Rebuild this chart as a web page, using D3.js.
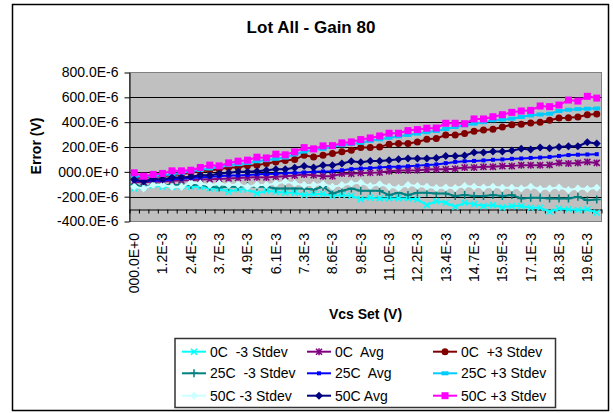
<!DOCTYPE html>
<html>
<head>
<meta charset="utf-8">
<script src="https://cdn.jsdelivr.net/npm/d3@7"></script>
<style>
  body { margin: 0; background: #fff; }
  text { font-family: "Liberation Sans", Arial, sans-serif; }
</style>
</head>
<body>
<svg id="chart" width="613" height="413"></svg>
<script>
// Vcs set points, in mV (category axis)
var vcsSet = [0.000, 0.408, 0.815, 1.223, 1.630, 2.038, 2.445, 2.853, 3.260, 3.668,
              4.075, 4.483, 4.890, 5.298, 5.705, 6.113, 6.520, 6.928, 7.335, 7.743,
              8.150, 8.558, 8.965, 9.373, 9.780, 10.188, 10.595, 11.003, 11.410, 11.818,
              12.225, 12.633, 13.040, 13.448, 13.855, 14.263, 14.670, 15.078, 15.485, 15.893,
              16.300, 16.708, 17.115, 17.523, 17.930, 18.338, 18.745, 19.153, 19.560, 19.968];

// error values in uV
var c0Minus = [-134,-120,-107,-120,-120,-115,-120,-120,-134,-134,-161,-142,-142,-174,-153,-161,-169,-169,-187,-179,
               -179,-193,-187,-193,-220,-209,-214,-214,-214,-214,-222,-268,-236,-249,-281,-249,-260,-276,-268,-286,
               -276,-276,-289,-289,-321,-295,-302,-308,-302,-329];
var c0Avg   = [-80,-85,-78,-80,-72,-70,-68,-62,-59,-57,-54,-50,-46,-44,-46,-40,-35,-30,-21,-28,
               -35,-35,-13,-15,-10,-8,-5,5,10,10,13,18,21,21,25,35,35,40,40,46,
               46,54,54,54,56,72,67,72,80,72];
var c0Plus  = [-45,-50,-40,-35,-25,-20,-5,5,13,21,35,35,50,54,67,80,91,99,134,120,
               134,147,161,174,195,195,201,222,228,228,241,262,268,297,297,308,327,337,343,361,
               380,383,394,399,415,434,436,442,460,466];
var c25Minus = [-102,-128,-102,-107,-107,-107,-107,-102,-120,-126,-120,-120,-115,-120,-120,-134,-134,-134,-134,-142,
                -120,-174,-153,-134,-153,-153,-153,-187,-169,-187,-169,-169,-174,-174,-195,-187,-195,-195,-187,-195,
                -187,-214,-209,-209,-214,-214,-214,-201,-228,-222];
var c25Avg  = [-70,-75,-68,-70,-60,-55,-50,-45,-40,-35,-30,-30,-25,-20,-18,-15,-10,-8,-5,0,
               3,5,13,22,27,30,35,40,40,45,50,55,60,70,80,85,88,92,97,100,
               105,108,112,115,120,128,135,138,140,142];
var c25Plus = [-35,-40,-35,-28,-19,-10,5,15,27,40,54,62,72,85,94,105,115,140,163,175,
               185,200,214,225,233,250,262,275,286,297,308,320,329,345,361,375,388,400,415,420,
               428,442,455,462,468,490,500,505,508,510];
var c50Minus = [-120,-134,-107,-107,-120,-120,-88,-94,-107,-94,-107,-102,-120,-107,-107,-94,-80,-94,-107,-107,
                -99,-120,-107,-94,-88,-115,-99,-120,-131,-107,-115,-120,-131,-126,-131,-115,-120,-126,-120,-128,
                -128,-134,-120,-139,-134,-126,-147,-134,-139,-128];
var c50Avg  = [-62,-75,-56,-62,-46,-46,-40,-27,-27,-16,-8,0,0,5,13,21,21,32,46,35,
               54,54,67,86,78,88,88,94,102,107,107,107,112,128,128,131,155,155,163,163,
               171,185,179,195,190,201,206,206,238,228];
var c50Plus = [-8,-35,-21,-13,8,8,13,35,54,48,72,86,94,118,112,142,137,161,195,185,
               209,211,233,241,260,273,289,311,311,332,340,351,353,391,391,388,426,426,444,460,
               479,490,495,530,525,538,578,570,608,594];

var seriesNames = ["0C  -3 Stdev", "0C  Avg", "0C  +3 Stdev",
                   "25C  -3 Stdev", "25C  Avg", "25C +3 Stdev",
                   "50C -3 Stdev", "50C Avg", "50C +3 Stdev"];
var seriesValues = [c0Minus, c0Avg, c0Plus, c25Minus, c25Avg, c25Plus, c50Minus, c50Avg, c50Plus];
var seriesColors = ["#00FFFF", "#800080", "#800000", "#008080", "#0000FF", "#00CCFF", "#CCFFFF", "#000080", "#FF00FF"];
var seriesMarkers = ["x", "star", "circle", "plus", "smallsquare", "dash", "diamond", "diamond", "square"];

var yTicks = [-400, -200, 0, 200, 400, 600, 800];

var svg = d3.select("#chart");

var plot = {left: 129.5, right: 601.5, top: 72.5, bottom: 221.5};

// outer chart border
svg.append("rect")
  .attr("x", 12.5).attr("y", 4.5)
  .attr("width", 596).attr("height", 406)
  .attr("fill", "#fff")
  .attr("stroke", "#000")
  .attr("stroke-width", 1.5);

svg.append("text")
  .attr("x", 311).attr("y", 33)
  .attr("text-anchor", "middle")
  .style("font-size", "17px")
  .style("font-weight", "bold")
  .text("Lot All - Gain 80");

var x = d3.scaleBand()
  .domain(d3.range(vcsSet.length))
  .range([plot.left, plot.right]);

var xEdge = d3.scaleLinear()
  .domain([0, vcsSet.length])
  .range([plot.left, plot.right]);

var y = d3.scaleLinear()
  .domain([-400, 800])
  .range([plot.bottom, plot.top]);

// plot area
svg.append("rect")
  .attr("x", plot.left).attr("y", plot.top)
  .attr("width", plot.right - plot.left).attr("height", plot.bottom - plot.top)
  .attr("fill", "#C0C0C0")
  .attr("stroke", "#808080")
  .attr("stroke-width", 1);

// gridlines
svg.append("g")
  .selectAll("line")
  .data([-200, 0, 200, 400, 600])
  .enter().append("line")
    .attr("x1", plot.left).attr("x2", plot.right)
    .attr("y1", function(d) { return Math.round(y(d)) + 0.5; })
    .attr("y2", function(d) { return Math.round(y(d)) + 0.5; })
    .attr("stroke", "#000")
    .attr("stroke-width", 1);

// y axis
var yAxis = svg.append("g")
  .attr("transform", "translate(" + plot.left + ",0)")
  .call(d3.axisLeft(y).tickValues(yTicks).tickSize(5).tickSizeOuter(0)
    .tickFormat(function(d) { return d === 0 ? "000.0E+0" : d.toFixed(1) + "E-6"; }));
yAxis.select(".domain").attr("stroke", "#000");
yAxis.selectAll("text")
  .attr("x", -11)
  .style("font-size", "14px")
  .style("font-family", "'Liberation Sans', Arial, sans-serif")
  .attr("fill", "#000");

// x axis crosses at -300E-6
var xAxisY = Math.round(y(-300)) + 0.5;
var xTicks = svg.append("g")
  .attr("transform", "translate(0," + xAxisY + ")")
  .call(d3.axisBottom(xEdge).tickValues(d3.range(vcsSet.length + 1)).tickSize(4).tickSizeOuter(0).tickFormat(""));
xTicks.select(".domain").attr("stroke", "#000");

var xLabels = svg.append("g")
  .selectAll("text")
  .data(d3.range(0, vcsSet.length, 3))
  .enter().append("text")
    .attr("transform", function(i) { return "translate(" + (x(i) + x.bandwidth() / 2) + ",233) rotate(-90)"; })
    .attr("text-anchor", "end")
    .attr("dy", "0.35em")
    .style("font-size", "14px")
    .text(function(i) { return vcsSet[i] === 0 ? "000.0E+0" : vcsSet[i].toFixed(1) + "E-3"; });

// axis titles
svg.append("text")
  .attr("transform", "translate(40.5,146) rotate(-90)")
  .attr("text-anchor", "middle")
  .style("font-size", "14px")
  .style("font-weight", "bold")
  .text("Error (V)");

svg.append("text")
  .attr("x", (plot.left + plot.right) / 2).attr("y", 319)
  .attr("text-anchor", "middle")
  .style("font-size", "14px")
  .style("font-weight", "bold")
  .text("Vcs Set (V)");

function drawMarker(g, type, color) {
  if (type === "x") {
    g.append("path").attr("d", "M-3,-3L3,3M-3,3L3,-3").attr("stroke", color).attr("stroke-width", 1.5).attr("fill", "none");
  } else if (type === "star") {
    g.append("path").attr("d", "M-3,-3L3,3M-3,3L3,-3M0,-3.5L0,3.5").attr("stroke", color).attr("stroke-width", 1.5).attr("fill", "none");
  } else if (type === "plus") {
    g.append("path").attr("d", "M-4,0L4,0M0,-4L0,4").attr("stroke", color).attr("stroke-width", 1.5).attr("fill", "none");
  } else if (type === "circle") {
    g.append("circle").attr("r", 3.5).attr("fill", color);
  } else if (type === "smallsquare") {
    g.append("rect").attr("x", -2).attr("y", -2).attr("width", 4).attr("height", 4).attr("fill", color);
  } else if (type === "dash") {
    g.append("rect").attr("x", -3.5).attr("y", -2).attr("width", 7).attr("height", 4).attr("fill", color);
  } else if (type === "diamond") {
    g.append("path").attr("d", "M0,-4L4,0L0,4L-4,0Z").attr("fill", color);
  } else if (type === "square") {
    g.append("rect").attr("x", -3.5).attr("y", -3.5).attr("width", 7).attr("height", 7).attr("fill", color);
  }
}

var line = d3.line()
  .x(function(d, i) { return x(i) + x.bandwidth() / 2; })
  .y(function(d) { return y(d); });

seriesValues.forEach(function(vals, s) {
  var g = svg.append("g");
  g.append("path")
    .datum(vals)
    .attr("fill", "none")
    .attr("stroke", seriesColors[s])
    .attr("stroke-width", 2)
    .attr("d", line);
  g.selectAll("g.pt")
    .data(vals)
    .enter().append("g")
      .attr("class", "pt")
      .attr("transform", function(d, i) { return "translate(" + (x(i) + x.bandwidth() / 2) + "," + y(d) + ")"; })
      .each(function() { drawMarker(d3.select(this), seriesMarkers[s], seriesColors[s]); });
});

// legend
var legend = svg.append("g");
legend.append("rect")
  .attr("x", 175).attr("y", 338.5)
  .attr("width", 380.5).attr("height", 69)
  .attr("fill", "#fff")
  .attr("stroke", "#333")
  .attr("stroke-width", 1.5);

var colX = [182, 307, 433];
var rowY = [351.7, 373.3, 395.7];
seriesNames.forEach(function(name, s) {
  var cx = colX[s % 3], cy = rowY[Math.floor(s / 3)];
  var item = legend.append("g").attr("transform", "translate(" + cx + "," + cy + ")");
  item.append("line").attr("x1", 0).attr("x2", 24).attr("y1", 0).attr("y2", 0)
    .attr("stroke", seriesColors[s]).attr("stroke-width", 2);
  drawMarker(item.append("g").attr("transform", "translate(12,0)"), seriesMarkers[s], seriesColors[s]);
  item.append("text")
    .attr("x", 28).attr("dy", "0.35em")
    .style("font-size", "14px")
    .style("white-space", "pre")
    .attr("xml:space", "preserve")
    .text(name);
});
</script>
</body>
</html>
